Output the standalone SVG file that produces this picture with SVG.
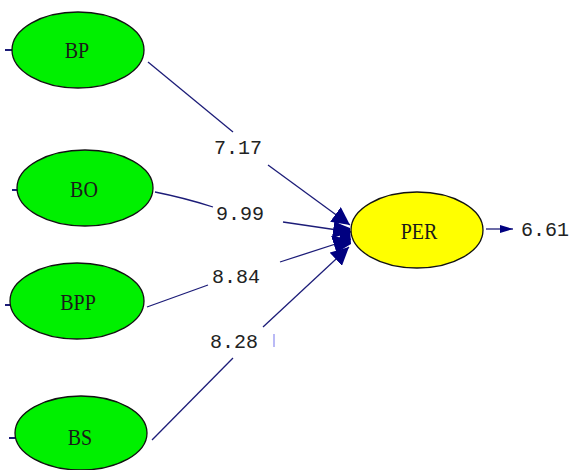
<svg xmlns="http://www.w3.org/2000/svg" width="573" height="470" viewBox="0 0 573 470">
  <style>
    .bg { fill: #ffffff; }
    .lat { fill: #00f000; stroke: #111111; stroke-width: 1.3; }
    .dep { fill: #ffff00; stroke: #111111; stroke-width: 1.3; }
    .nlab { font-family: "Liberation Serif", "Times New Roman", serif; font-size: 20px; fill: #1a1a1a; text-anchor: middle; }
    .elab { font-family: "Liberation Mono", "Courier New", monospace; font-size: 20px; fill: #222222; }
    .edge { fill: none; stroke: #1c1c78; stroke-width: 1.3; }
    .tick { fill: none; stroke: #1c1c78; stroke-width: 2; }
  </style>
  <defs>
    <marker id="ah" viewBox="0 0 18 18" refX="18" refY="9" markerWidth="18" markerHeight="18" markerUnits="userSpaceOnUse" orient="auto">
      <path d="M0,0 L18,9 L0,18 Z" fill="#000080"/>
    </marker>
  </defs>
  <rect class="bg" x="0" y="0" width="573" height="470"/>

  <g id="connectors">
    <line class="edge" x1="148" y1="62" x2="233" y2="132"/>
    <line class="edge" x1="268" y1="165" x2="350" y2="225" marker-end="url(#ah)"/>
    <path class="edge" d="M155,192 Q185,198 213,207"/>
    <line class="edge" x1="283" y1="222" x2="351" y2="232" marker-end="url(#ah)"/>
    <line class="edge" x1="147" y1="307" x2="208" y2="285"/>
    <line class="edge" x1="280" y1="262" x2="351" y2="239" marker-end="url(#ah)"/>
    <line class="edge" x1="152" y1="440" x2="233" y2="358"/>
    <line class="edge" x1="263" y1="327" x2="349" y2="247" marker-end="url(#ah)"/>
    <path d="M335,222 L350,228 L351,244 L336,253 L340,236 Z" fill="#000080"/>
    <line x1="274" y1="334" x2="274" y2="347" stroke="#8c8cf0" stroke-width="1.2"/>
    <line class="edge" x1="513" y1="229" x2="486" y2="229" stroke-width="2"/>
    <path d="M500,225 L513,229 L500,233 Z" fill="#000080"/>
    <line class="tick" x1="5" y1="50" x2="13" y2="50" stroke="#888888" stroke-width="1"/>
    <line class="tick" x1="12" y1="190" x2="18" y2="190"/>
    <line class="tick" x1="5" y1="305" x2="11" y2="305"/>
    <line class="tick" x1="9" y1="438" x2="15" y2="438"/>
  </g>

  <g id="labels">
    <text class="elab" x="214" y="154">7.17</text>
    <text class="elab" x="216" y="220">9.99</text>
    <text class="elab" x="212" y="283">8.84</text>
    <text class="elab" x="210" y="348">8.28</text>
    <text class="elab" x="521" y="236">6.61</text>
  </g>

  <g id="BP">
    <ellipse class="lat" cx="78" cy="50" rx="66" ry="38"/>
    <text class="nlab" transform="translate(77,58) scale(1,1.2)">BP</text>
  </g>
  <g id="BO">
    <ellipse class="lat" cx="85" cy="188" rx="68" ry="38"/>
    <text class="nlab" transform="translate(84,197) scale(1,1.2)">BO</text>
  </g>
  <g id="BPP">
    <ellipse class="lat" cx="77" cy="301" rx="67" ry="38"/>
    <text class="nlab" transform="translate(78,310) scale(1,1.2)">BPP</text>
  </g>
  <g id="BS">
    <ellipse class="lat" cx="81" cy="433" rx="66" ry="37"/>
    <text class="nlab" transform="translate(80,445) scale(1,1.2)">BS</text>
  </g>
  <g id="PER">
    <ellipse class="dep" cx="417" cy="230" rx="66" ry="38"/>
    <text class="nlab" transform="translate(419,239) scale(1,1.2)">PER</text>
  </g>
</svg>
